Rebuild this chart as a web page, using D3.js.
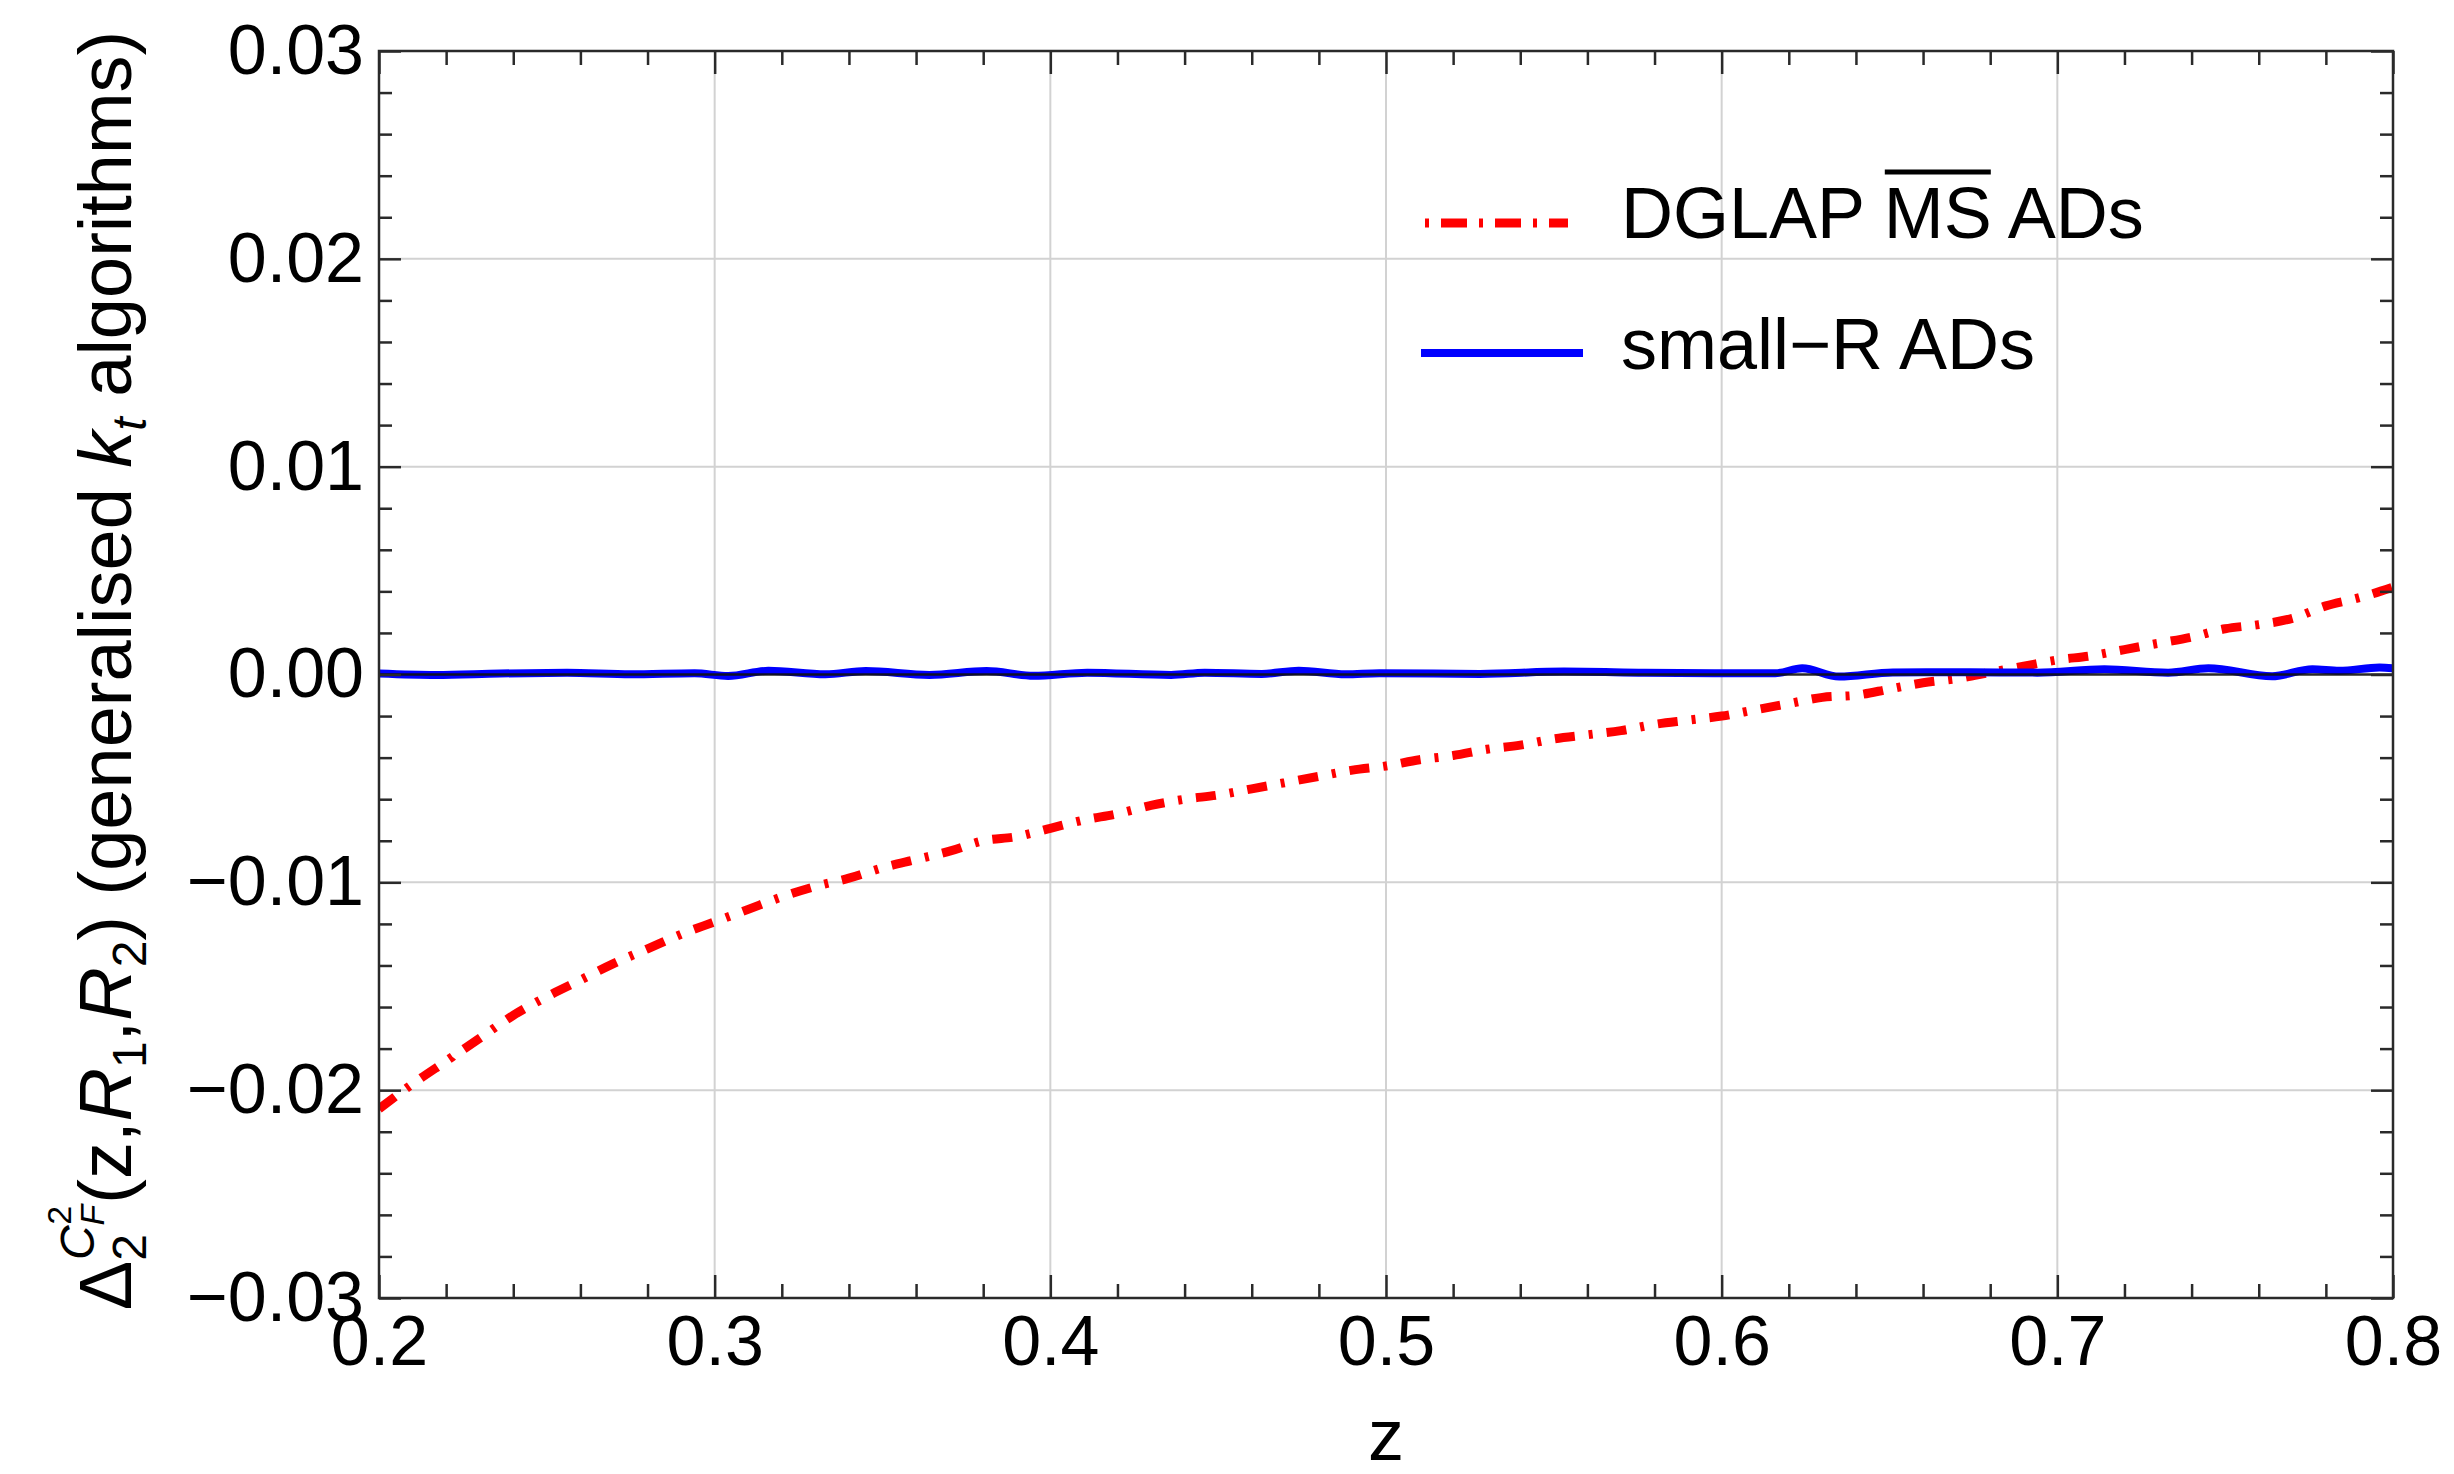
<!DOCTYPE html>
<html>
<head>
<meta charset="utf-8">
<script src="https://cdn.jsdelivr.net/npm/d3@7"></script>
<style>
  html, body { margin: 0; padding: 0; background: #ffffff; }
  svg { display: block; }
  text { font-family: "Liberation Sans", Arial, Helvetica, sans-serif; fill: #000; }
</style>
</head>
<body>
<svg id="chart" width="2454" height="1474"></svg>
<script>
// ---- data ------------------------------------------------------------
// DGLAP MS-bar angular-ordered result, sampled in z
const zRed = [0.20,0.21,0.22,0.23,0.24,0.25,0.26,0.27,0.28,0.29,
              0.30,0.31,0.32,0.33,0.34,0.35,0.36,0.37,0.38,0.39,
              0.40,0.41,0.42,0.43,0.44,0.45,0.46,0.47,0.48,0.49,
              0.50,0.51,0.52,0.53,0.54,0.55,0.56,0.57,0.58,0.59,
              0.60,0.61,0.62,0.63,0.64,0.65,0.66,0.67,0.68,0.69,
              0.70,0.71,0.72,0.73,0.74,0.75,0.76,0.77,0.78,0.79,0.80];
const dglap = [-0.0209,-0.0197,-0.0186,-0.0175,-0.0164,-0.0155,-0.0147,-0.0139,-0.0132,-0.0125,
               -0.0119,-0.0113,-0.0107,-0.0102,-0.0098,-0.0093,-0.0089,-0.0085,-0.0080,-0.0078,
               -0.0074,-0.0070,-0.0067,-0.0063,-0.0060,-0.0058,-0.0055,-0.0052,-0.0049,-0.0046,
               -0.0044,-0.0041,-0.0039,-0.0036,-0.0034,-0.0031,-0.0029,-0.0027,-0.0024,-0.0022,
               -0.0020,-0.0017,-0.0014,-0.0011,-0.0010,-0.0007,-0.0004,-0.0002, 0.0001, 0.0004,
                0.0007, 0.0009, 0.0012, 0.0015, 0.0018, 0.0022, 0.0024, 0.0027, 0.0033, 0.0037, 0.0042];

// small-R result (numerical, fluctuates around zero)
const zBlue = [0.200,0.217,0.236,0.256,0.275,0.294,0.304,0.316,0.333,0.345,
               0.364,0.381,0.395,0.411,0.436,0.446,0.463,0.474,0.488,0.498,
               0.528,0.553,0.577,0.600,0.616,0.624,0.635,0.651,0.674,0.694,
               0.714,0.733,0.745,0.764,0.776,0.784,0.796,0.800];
const smallR = [0.00005,-0.00002,0.00005,0.00008,0.00001,0.00006,-0.00007,0.00018,0.00001,0.00017,
               -0.00002,0.00017,-0.00006,0.00009,-0.00002,0.00009,0.00003,0.00018,0.00001,0.00006,
                0.00003,0.00014,0.00009,0.00006,0.00006,0.00030,-0.00010,0.00010,0.00011,0.00009,
                0.00025,0.00009,0.00030,-0.00008,0.00025,0.00018,0.00034,0.00030];

const xMajor = [0.2,0.3,0.4,0.5,0.6,0.7,0.8];
const xTickLabels = ["0.2","0.3","0.4","0.5","0.6","0.7","0.8"];
const yMajor = [-0.03,-0.02,-0.01,0.00,0.01,0.02,0.03];
const yTickLabels = ["\u22120.03","\u22120.02","\u22120.01","0.00","0.01","0.02","0.03"];
const xMinor = [0.22,0.24,0.26,0.28,0.32,0.34,0.36,0.38,0.42,0.44,0.46,0.48,
                0.52,0.54,0.56,0.58,0.62,0.64,0.66,0.68,0.72,0.74,0.76,0.78];
const yMinor = [-0.028,-0.026,-0.024,-0.022,-0.018,-0.016,-0.014,-0.012,-0.008,-0.006,-0.004,-0.002,
                0.002,0.004,0.006,0.008,0.012,0.014,0.016,0.018,0.022,0.024,0.026,0.028];
const legendLabels = ["DGLAP ", "MS", " ADs", "small\u2212R ADs"];

// ---- layout ----------------------------------------------------------
const L = 379, R = 2393, T = 51, B = 1298;
const svg = d3.select("#chart");
const x = d3.scaleLinear().domain([0.2, 0.8]).range([L, R]);
const y = d3.scaleLinear().domain([-0.03, 0.03]).range([B, T]);

svg.append("rect").attr("width", 2454).attr("height", 1474).attr("fill", "#fff");

// grid
const grid = svg.append("g").attr("stroke", "#d2d2d2").attr("stroke-width", 2);
grid.selectAll("line.gx").data(xMajor.slice(1, -1)).join("line")
  .attr("x1", d => x(d)).attr("x2", d => x(d)).attr("y1", T).attr("y2", B);
grid.selectAll("line.gy").data(yMajor.filter(v => Math.abs(v) > 1e-9 && Math.abs(v) < 0.029)).join("line")
  .attr("y1", d => y(d)).attr("y2", d => y(d)).attr("x1", L).attr("x2", R);

// curves
svg.append("clipPath").attr("id", "plotclip")
  .append("rect").attr("x", L).attr("y", T).attr("width", R - L).attr("height", B - T);

const curve = d3.line().x(d => x(d[0])).y(d => y(d[1])).curve(d3.curveMonotoneX);
svg.append("path")
  .datum(zRed.map((z, i) => [z, dglap[i]]))
  .attr("clip-path", "url(#plotclip)")
  .attr("d", curve)
  .attr("fill", "none").attr("stroke", "#ff0000").attr("stroke-width", 9)
  .attr("stroke-dasharray", "20,14,4,14").attr("stroke-linecap", "butt");

svg.append("path")
  .datum(zBlue.map((z, i) => [z, smallR[i]]))
  .attr("clip-path", "url(#plotclip)")
  .attr("d", curve)
  .attr("fill", "none").attr("stroke", "#0000ff").attr("stroke-width", 8)
  .attr("stroke-linejoin", "round");

// horizontal axis line at zero
svg.append("line").attr("x1", L).attr("x2", R).attr("y1", y(0)).attr("y2", y(0))
  .attr("stroke", "#111").attr("stroke-width", 2.5).attr("stroke-opacity", 0.9);

// frame ticks (major + minor on all four sides)
const fmtY = d => yTickLabels[yMajor.findIndex(v => Math.abs(v - d) < 1e-9)];
const fmtX = d => xTickLabels[xMajor.findIndex(v => Math.abs(v - d) < 1e-9)];

function styleAxis(g) {
  g.select(".domain").remove();
  g.selectAll(".tick line").attr("stroke", "#2a2a2a").attr("stroke-width", 2.5);
}

svg.append("g").attr("transform", `translate(${L},0)`)
  .call(d3.axisLeft(y).tickValues(yMajor).tickSizeInner(-22).tickSizeOuter(0).tickPadding(15).tickFormat(fmtY))
  .call(styleAxis)
  .call(g => g.selectAll(".tick text").attr("font-size", 70).attr("dy", "0.32em")
        .attr("font-family", null).style("font-family", "'Liberation Sans', Arial, sans-serif"));
svg.append("g").attr("transform", `translate(${L},0)`)
  .call(d3.axisLeft(y).tickValues(yMinor).tickSizeInner(-13).tickSizeOuter(0).tickFormat(""))
  .call(styleAxis);
svg.append("g").attr("transform", `translate(${R},0)`)
  .call(d3.axisRight(y).tickValues(yMajor).tickSizeInner(-22).tickSizeOuter(0).tickFormat(""))
  .call(styleAxis);
svg.append("g").attr("transform", `translate(${R},0)`)
  .call(d3.axisRight(y).tickValues(yMinor).tickSizeInner(-13).tickSizeOuter(0).tickFormat(""))
  .call(styleAxis);

svg.append("g").attr("transform", `translate(0,${B})`)
  .call(d3.axisBottom(x).tickValues(xMajor).tickSizeInner(-23).tickSizeOuter(0).tickPadding(0).tickFormat(fmtX))
  .call(styleAxis)
  .call(g => g.selectAll(".tick text").attr("font-size", 70).attr("y", 67).attr("dy", 0)
        .attr("font-family", null).style("font-family", "'Liberation Sans', Arial, sans-serif"));
svg.append("g").attr("transform", `translate(0,${B})`)
  .call(d3.axisBottom(x).tickValues(xMinor).tickSizeInner(-14).tickSizeOuter(0).tickFormat(""))
  .call(styleAxis);
svg.append("g").attr("transform", `translate(0,${T})`)
  .call(d3.axisTop(x).tickValues(xMajor).tickSizeInner(-23).tickSizeOuter(0).tickFormat(""))
  .call(styleAxis);
svg.append("g").attr("transform", `translate(0,${T})`)
  .call(d3.axisTop(x).tickValues(xMinor).tickSizeInner(-14).tickSizeOuter(0).tickFormat(""))
  .call(styleAxis);

// frame
svg.append("rect").attr("x", L).attr("y", T).attr("width", R - L).attr("height", B - T)
  .attr("fill", "none").attr("stroke", "#2a2a2a").attr("stroke-width", 2.5);

// axis titles
svg.append("text").attr("x", (L + R) / 2).attr("y", 1460)
  .attr("text-anchor", "middle").attr("font-size", 72).text("z");

const yt = svg.append("text")
  .attr("transform", `translate(131,${(T + B) / 2 - 4}) rotate(-90)`)
  .attr("text-anchor", "middle").attr("font-size", 74);
yt.append("tspan").text("\u0394");
yt.append("tspan").attr("font-size", 48).attr("dy", 15).text("2");
yt.append("tspan").attr("font-size", 48).attr("font-style", "italic").attr("dx", -26).attr("dy", -52).text("C");
yt.append("tspan").attr("font-size", 34).attr("font-style", "italic").attr("dy", 10).text("F");
yt.append("tspan").attr("font-size", 34).attr("dx", -20).attr("dy", -33).text("2");
yt.append("tspan").attr("dy", 60).attr("dx", 2).text("(z,");
yt.append("tspan").attr("font-style", "italic").text("R");
yt.append("tspan").attr("font-size", 48).attr("dy", 15).text("1");
yt.append("tspan").attr("dy", -15).text(",");
yt.append("tspan").attr("font-style", "italic").text("R");
yt.append("tspan").attr("font-size", 48).attr("dy", 15).text("2");
yt.append("tspan").attr("dy", -15).text(") (generalised ");
yt.append("tspan").attr("font-style", "italic").text("k");
yt.append("tspan").attr("font-style", "italic").attr("font-size", 48).attr("dy", 15).text("t");
yt.append("tspan").attr("dy", -15).text(" algorithms)");

// legend
const lg = svg.append("g");
lg.append("line").attr("x1", 1425).attr("x2", 1568).attr("y1", 223).attr("y2", 223)
  .attr("stroke", "#ff0000").attr("stroke-width", 9).attr("stroke-dasharray", "4,12,26,12");
const t1 = lg.append("text").attr("x", 1621).attr("y", 238).attr("font-size", 72);
t1.append("tspan").text(legendLabels[0]);
t1.append("tspan").text(legendLabels[1]);
t1.append("tspan").text(legendLabels[2]);
const tn = t1.node();
const ms0 = tn.getStartPositionOfChar(legendLabels[0].length).x;
const ms1 = tn.getEndPositionOfChar(legendLabels[0].length + 1).x;
lg.append("line").attr("x1", ms0 + 1).attr("x2", ms1 - 1).attr("y1", 172).attr("y2", 172)
  .attr("stroke", "#000").attr("stroke-width", 5);

lg.append("line").attr("x1", 1421).attr("x2", 1583).attr("y1", 353).attr("y2", 353)
  .attr("stroke", "#0000ff").attr("stroke-width", 8);
lg.append("text").attr("x", 1621).attr("y", 369).attr("font-size", 72).text(legendLabels[3]);
</script>
</body>
</html>
